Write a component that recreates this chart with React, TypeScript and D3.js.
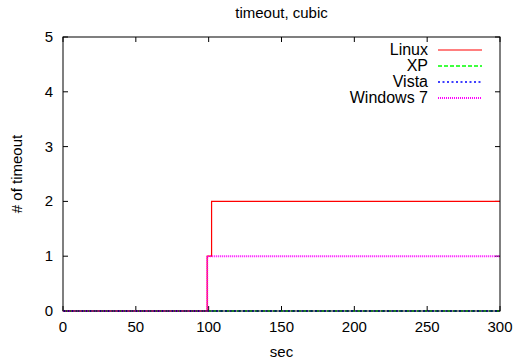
import React from "react";
import * as d3 from "d3";

const title = "timeout, cubic";
const xLabel = "sec";
const yLabel = "# of timeout";

const xTicks = [0, 50, 100, 150, 200, 250, 300];
const yTicks = [0, 1, 2, 3, 4, 5];

const seriesNames = ["Linux", "XP", "Vista", "Windows 7"];
const linuxSec = [0, 99, 102, 300];
const linuxCount = [0, 1, 2, 2];
const xpSec = [0, 300];
const xpCount = [0, 0];
const vistaSec = [0, 300];
const vistaCount = [0, 0];
const win7Sec = [0, 99, 300];
const win7Count = [0, 1, 1];

const W = 518;
const H = 362;
const margin = { left: 63, right: 18, top: 37, bottom: 51 };
const font = "'Liberation Sans', Arial, sans-serif";

const styles = [
  { color: "#ff0000", dash: "", width: 1.2 },
  { color: "#00ff00", dash: "4,2", width: 1.4 },
  { color: "#0000ff", dash: "2,2.5", width: 1.4 },
  { color: "#ff00ff", dash: "1,1", width: 2 },
];

export default function App() {
  const x = d3.scaleLinear().domain([0, 300]).range([margin.left, W - margin.right]);
  const y = d3.scaleLinear().domain([0, 5]).range([H - margin.bottom, margin.top]);

  const series = [
    { name: seriesNames[0], sec: linuxSec, count: linuxCount },
    { name: seriesNames[1], sec: xpSec, count: xpCount },
    { name: seriesNames[2], sec: vistaSec, count: vistaCount },
    { name: seriesNames[3], sec: win7Sec, count: win7Count },
  ];

  const line = d3
    .line<[number, number]>()
    .x((d) => x(d[0]))
    .y((d) => y(d[1]))
    .curve(d3.curveStepAfter);

  const [x0, x1] = x.range();
  const [y0, y1] = y.range();
  const tickLen = 5;

  return (
    <svg
      width={W}
      height={H}
      style={{ position: "absolute", left: 0, top: 0, background: "#fff" }}
      fontFamily={font}
    >
      <text x={(x0 + x1) / 2} y={18} fontSize={15} textAnchor="middle">
        {title}
      </text>

      {/* ticks, mirrored like gnuplot */}
      {xTicks.map((t) => (
        <g key={"x" + t}>
          <line x1={x(t)} x2={x(t)} y1={y0} y2={y0 - tickLen} stroke="#000" />
          <line x1={x(t)} x2={x(t)} y1={y1} y2={y1 + tickLen} stroke="#000" />
          <text x={x(t)} y={y0 + 21} fontSize={15} textAnchor="middle">
            {t}
          </text>
        </g>
      ))}
      {yTicks.map((t) => (
        <g key={"y" + t}>
          <line x1={x0} x2={x0 + tickLen} y1={y(t)} y2={y(t)} stroke="#000" />
          <line x1={x1} x2={x1 - tickLen} y1={y(t)} y2={y(t)} stroke="#000" />
          <text x={x0 - 10} y={y(t) + 5} fontSize={15} textAnchor="end">
            {t}
          </text>
        </g>
      ))}

      <text x={(x0 + x1) / 2} y={357} fontSize={15} textAnchor="middle">
        {xLabel}
      </text>
      <text
        transform={`translate(22,${(y0 + y1) / 2}) rotate(-90)`}
        fontSize={15}
        textAnchor="middle"
      >
        {yLabel}
      </text>

      {series.map((s, i) => (
        <path
          key={s.name}
          d={line(s.sec.map((v, j) => [v, s.count[j]] as [number, number])) || ""}
          fill="none"
          stroke={styles[i].color}
          strokeWidth={styles[i].width}
          strokeDasharray={styles[i].dash || undefined}
        />
      ))}

      {series.map((s, i) => {
        const ly = 50 + i * 16;
        return (
          <g key={"leg" + s.name}>
            <text x={428} y={ly + 5} fontSize={16} textAnchor="end">
              {s.name}
            </text>
            <line
              x1={438}
              x2={482}
              y1={ly}
              y2={ly}
              stroke={styles[i].color}
              strokeWidth={styles[i].width}
              strokeDasharray={styles[i].dash || undefined}
            />
          </g>
        );
      })}

      <rect x={x0} y={y1} width={x1 - x0} height={y0 - y1} fill="none" stroke="#000" />
    </svg>
  );
}
